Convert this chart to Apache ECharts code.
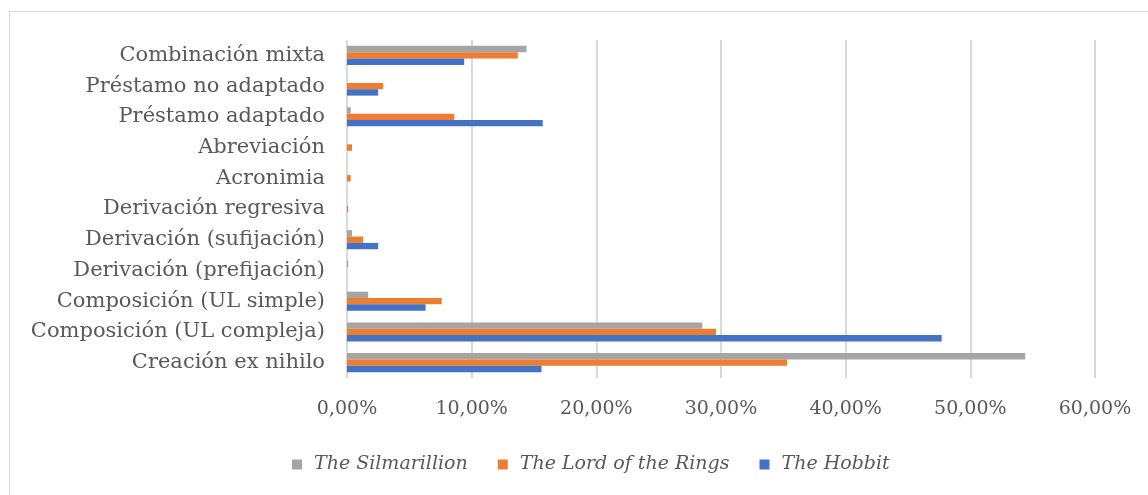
<!DOCTYPE html>
<html>
<head>
<meta charset="utf-8">
<script src="https://cdn.jsdelivr.net/npm/echarts@6/dist/echarts.min.js"></script>
<style>
html,body{margin:0;padding:0;background:#fff;}
#frame{position:absolute;left:9px;top:11px;width:1200px;height:600px;border-left:1.5px solid #d9d9d9;border-top:1.5px solid #d9d9d9;box-sizing:border-box;}
#chart{position:absolute;left:0;top:0;width:1148px;height:495px;}
</style>
</head>
<body>
<div id="frame"></div>
<div id="chart"></div>
<script>
// categories bottom-to-top
const categories = [
  "Creación ex nihilo",
  "Composición (UL compleja)",
  "Composición (UL simple)",
  "Derivación (prefijación)",
  "Derivación (sufijación)",
  "Derivación regresiva",
  "Acronimia",
  "Abreviación",
  "Préstamo adaptado",
  "Préstamo no adaptado",
  "Combinación mixta"
];
const hobbit = [15.6, 47.7, 6.3, 0, 2.5, 0, 0, 0, 15.7, 2.5, 9.4];
const lotr = [35.3, 29.6, 7.6, 0, 1.3, 0.1, 0.3, 0.4, 8.6, 2.9, 13.7];
const silmarillion = [54.4, 28.5, 1.7, 0.1, 0.4, 0, 0, 0, 0.3, 0, 14.4];
const xTicks = [0, 10, 20, 30, 40, 50, 60];
const seriesNames = ["The Silmarillion", "The Lord of the Rings", "The Hobbit"];
const colors = ["#a5a5a5", "#ed7d31", "#4472c4"];

const font = "'DejaVu Serif', 'Liberation Serif', serif";
const chart = echarts.init(document.getElementById('chart'));
const mk = (name, data, color) => ({
  name: name, type: 'bar', data: data,
  itemStyle: {color: color},
  barGap: '0%', barCategoryGap: '38%',
  emphasis: {disabled: true}
});
chart.setOption({
  animation: false,
  textStyle: {fontFamily: font},
  grid: {left: 347, right: 53, top: 40, bottom: 117, containLabel: false},
  legend: {
    data: seriesNames,
    bottom: 16, left: 287,
    icon: 'rect', itemWidth: 10, itemHeight: 10, itemGap: 30,
    textStyle: {fontFamily: font, fontStyle: 'italic', fontSize: 19, color: '#595959', padding: [0, 0, 0, 7]}
  },
  xAxis: {
    type: 'value', min: xTicks[0], max: xTicks[xTicks.length - 1], interval: 10,
    axisLine: {show: false}, axisTick: {show: false},
    splitLine: {lineStyle: {color: '#d9d9d9', width: 2}},
    axisLabel: {
      fontFamily: font, fontSize: 19, color: '#595959', margin: 22,
      formatter: v => v.toFixed(2).replace('.', ',') + '%'
    }
  },
  yAxis: {
    type: 'category', data: categories,
    axisLine: {show: false}, axisTick: {show: false},
    axisLabel: {fontFamily: font, fontSize: 21, color: '#595959', margin: 22}
  },
  series: [
    mk(seriesNames[0], silmarillion, colors[0]),
    mk(seriesNames[1], lotr, colors[1]),
    mk(seriesNames[2], hobbit, colors[2])
  ]
});
</script>
</body>
</html>
